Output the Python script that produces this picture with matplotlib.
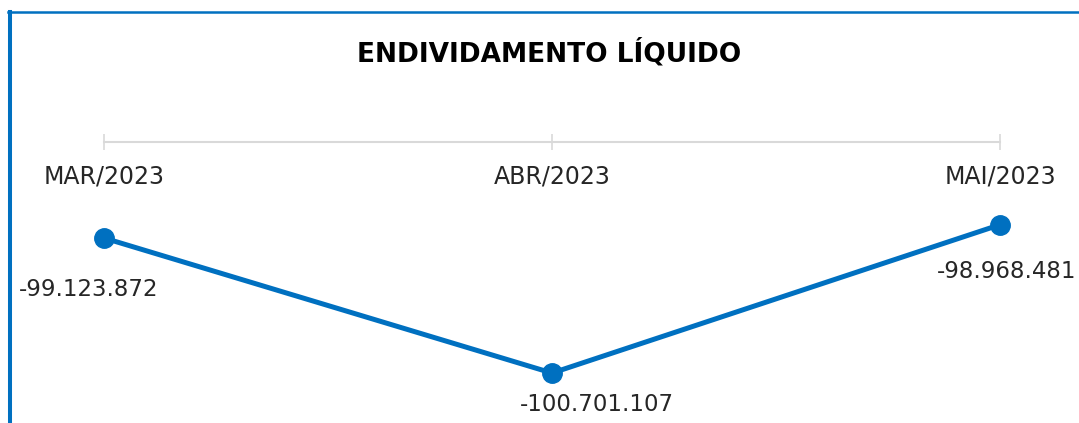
import numpy as np
import matplotlib.pyplot as plt
from matplotlib.lines import Line2D

months = ['MAR/2023', 'ABR/2023', 'MAI/2023']
endividamento = [-99123872, -100701107, -98968481]
value_labels = ['-99.123.872', '-100.701.107', '-98.968.481']

# label offsets in points (dx, dy), as placed in the original
label_offsets = [(-11, -37), (32, -23), (5, -34)]

blue = '#0070C0'
plt.rcParams['font.family'] = ['DejaVu Sans']

W, H = 1079, 423
fig = plt.figure(figsize=(W/100, H/100), dpi=100)

# frame: blue line on top and left
fig.add_artist(Line2D([8/W, 1], [1 - 12/H, 1 - 12/H], color=blue, lw=1.8))
fig.add_artist(Line2D([10/W, 10/W], [0, 1 - 12/H], color=blue, lw=2.9))

fig.text(549/W, 1 - 53/H, 'ENDIVIDAMENTO LÍQUIDO', ha='center', va='center',
         fontsize=19, fontweight='bold', color='black')

ax = fig.add_axes([104/W, 0, 896/W, (H - 142)/H])
x = np.arange(len(months))
ax.plot(x, endividamento, '-o', color=blue, lw=3.6, ms=14, clip_on=False, zorder=3)
ax.set_xlim(0, 2)
ax.set_ylim(-101.285e6, -98.002e6)

for s in ['left', 'right', 'bottom']:
    ax.spines[s].set_visible(False)
ax.spines['top'].set_color('#d9d9d9')
ax.spines['top'].set_linewidth(1.5)
ax.set_yticks([])
ax.xaxis.set_ticks_position('top')
ax.set_xticks(x)
ax.set_xticklabels([])
ax.tick_params(axis='x', direction='inout', length=12, width=1.2, color='#d9d9d9')

for i, m in enumerate(months):
    ax.annotate(m, (x[i], 1), xycoords=('data', 'axes fraction'),
                xytext=(0, -25), textcoords='offset points',
                ha='center', va='center', fontsize=17, color='#262626')

for i, lab in enumerate(value_labels):
    ax.annotate(lab, (x[i], endividamento[i]), xytext=label_offsets[i],
                textcoords='offset points', ha='center', va='center',
                fontsize=16.5, color='#262626', annotation_clip=False)

fig.savefig('out.png', dpi=100)
